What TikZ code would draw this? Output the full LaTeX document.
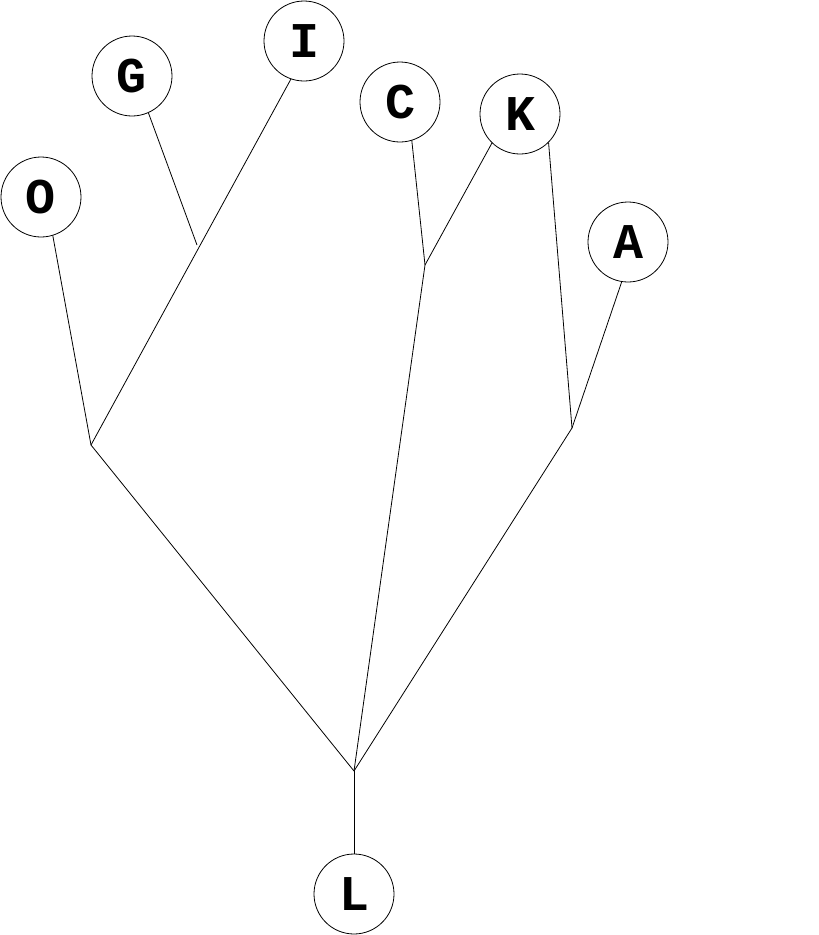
\documentclass[tikz,border=0pt]{standalone}
\usepackage{fontspec}
\newfontfamily\nodefont{Liberation Mono}
\begin{document}
\begin{tikzpicture}[x=1pt,y=-1pt,
  tnode/.style={circle,draw,line width=0.8pt,minimum size=80pt,inner sep=0pt,font=\nodefont\bfseries\fontsize{50}{50}\selectfont},
  edge/.style={draw,line width=0.8pt}]
\useasboundingbox (0,0) rectangle (819,935);
\node[tnode] (O) at (41,197) {O};
\node[tnode] (G) at (132,76) {G};
\node[tnode] (I) at (304,41) {I};
\node[tnode] (C) at (400,102) {C};
\node[tnode] (K) at (520,114) {K};
\node[tnode] (A) at (628,242) {A};
\node[tnode] (L) at (354,894) {L};
\coordinate (J2) at (91,445);
\coordinate (J1) at (197,245);
\coordinate (J3) at (425,265);
\coordinate (J4) at (572,428);
\coordinate (R) at (354,771);
\draw[edge] (O.-73) -- (J2);
\draw[edge] (I.-109) -- (J2);
\draw[edge] (G.-66) -- (J1);
\draw[edge] (C.-73) -- (J3);
\draw[edge] (K.-134) -- (J3);
\draw[edge] (K.-45) -- (J4);
\draw[edge] (A.-99) -- (J4);
\draw[edge] (J2) -- (R);
\draw[edge] (J3) -- (R);
\draw[edge] (J4) -- (R);
\draw[edge] (R) -- (L);
\end{tikzpicture}
\end{document}
